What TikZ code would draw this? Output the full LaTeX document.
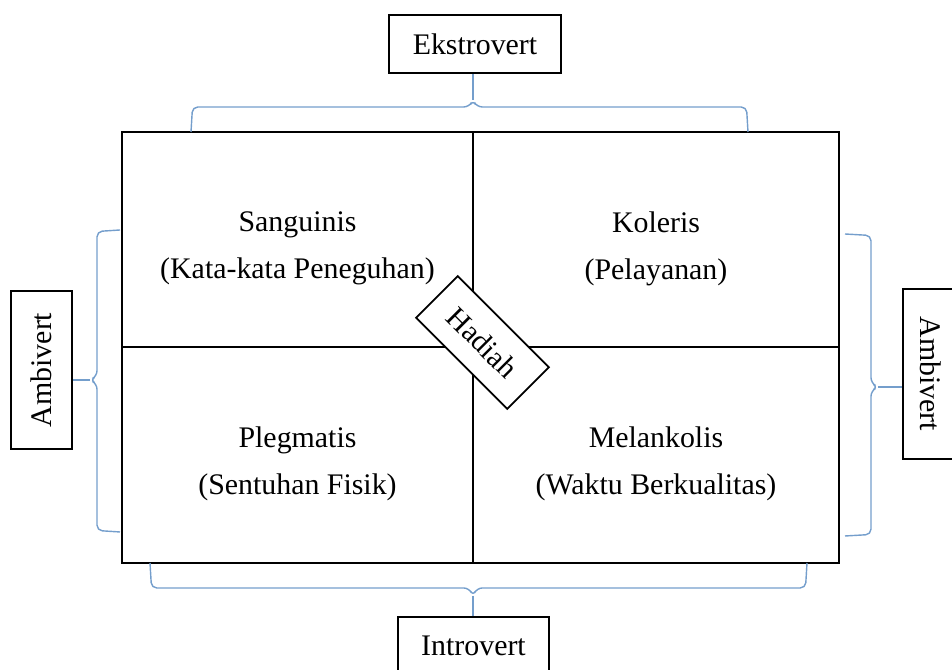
\documentclass[tikz,border=0pt]{standalone}
\usepackage{fontspec}
\setmainfont{Liberation Serif}
\usetikzlibrary{positioning}
\definecolor{braceblue}{RGB}{116,158,204}

\begin{document}
\begin{tikzpicture}[
font=\fontsize{17}{26.7}\selectfont,
frame/.style={draw, line width=1pt},
quad/.style={align=center,
inner sep=0pt},
tag/.style={draw,
line width=1pt,
rectangle,
fill=white,
inner sep=0pt},
brace/.style={draw=braceblue, line width=0.8pt, rounded corners=3pt}
]
\useasboundingbox (0,0) rectangle (19.04,13.40);

% the four quarters
\draw[frame] (2.44,2.14) rectangle (16.78,10.76);
\draw[frame] (9.46,2.14) -- (9.46,10.76);
\draw[frame] (2.44,6.46) -- (16.78,6.46);

\node[quad] (sang) at (5.95,8.43) {Sanguinis\\(Kata-kata Peneguhan)};
\node[quad] (kol) at (13.12,8.43) {Koleris\\(Pelayanan)};
\node[quad] (pleg) at (5.95,4.12) {Plegmatis\\(Sentuhan Fisik)};
\node[quad] (mel) at (13.12,4.12) {Melankolis\\(Waktu Berkualitas)};

\node[tag, rotate=-45, minimum width=2.58cm, minimum height=1.18cm] (hadiah) at (9.65,6.55) {Hadiah};

\node[tag, minimum width=3.44cm, minimum height=1.16cm] (ekstro) at (9.50,12.52) {Ekstrovert};
\node[tag, minimum width=3.02cm, minimum height=1.16cm] (intro) at (9.47,0.48) {Introvert};
\node[tag, rotate=90, minimum width=3.16cm, minimum height=1.22cm] (ambL) at (0.83,6.00) {Ambivert};
\node[tag, rotate=-90, minimum width=3.40cm, minimum height=1.12cm] (ambR) at (18.62,5.92) {Ambivert};

% braces
\coordinate (tipT) at (9.46,11.40);
\coordinate (tipB) at (9.46,1.48);
\coordinate (tipL) at (1.80,5.80);
\coordinate (tipR) at (17.56,5.66);

\draw[brace] (3.82,10.76) -- (3.85,11.26) -- (9.38,11.26) -- (tipT) -- (9.54,11.26) -- (14.93,11.26) -- (14.96,10.76);
\draw[brace] (3.00,2.14) -- (3.03,1.64) -- (9.38,1.64) -- (tipB) -- (9.54,1.64) -- (16.11,1.64) -- (16.14,2.14);
\draw[brace] (2.40,8.80) -- (1.94,8.77) -- (1.94,5.88) -- (tipL) -- (1.94,5.72) -- (1.94,2.79) -- (2.40,2.76);
\draw[brace] (16.90,8.72) -- (17.42,8.69) -- (17.42,5.74) -- (tipR) -- (17.42,5.58) -- (17.42,2.71) -- (16.90,2.68);

\draw[brace] (tipT) -- (tipT |- ekstro.south);
\draw[brace] (tipB) -- (tipB |- intro.north);
\draw[brace] (tipL) -- (tipL -| ambL.south);
\draw[brace] (tipR) -- (tipR -| ambR.south);

\end{tikzpicture}
\end{document}
